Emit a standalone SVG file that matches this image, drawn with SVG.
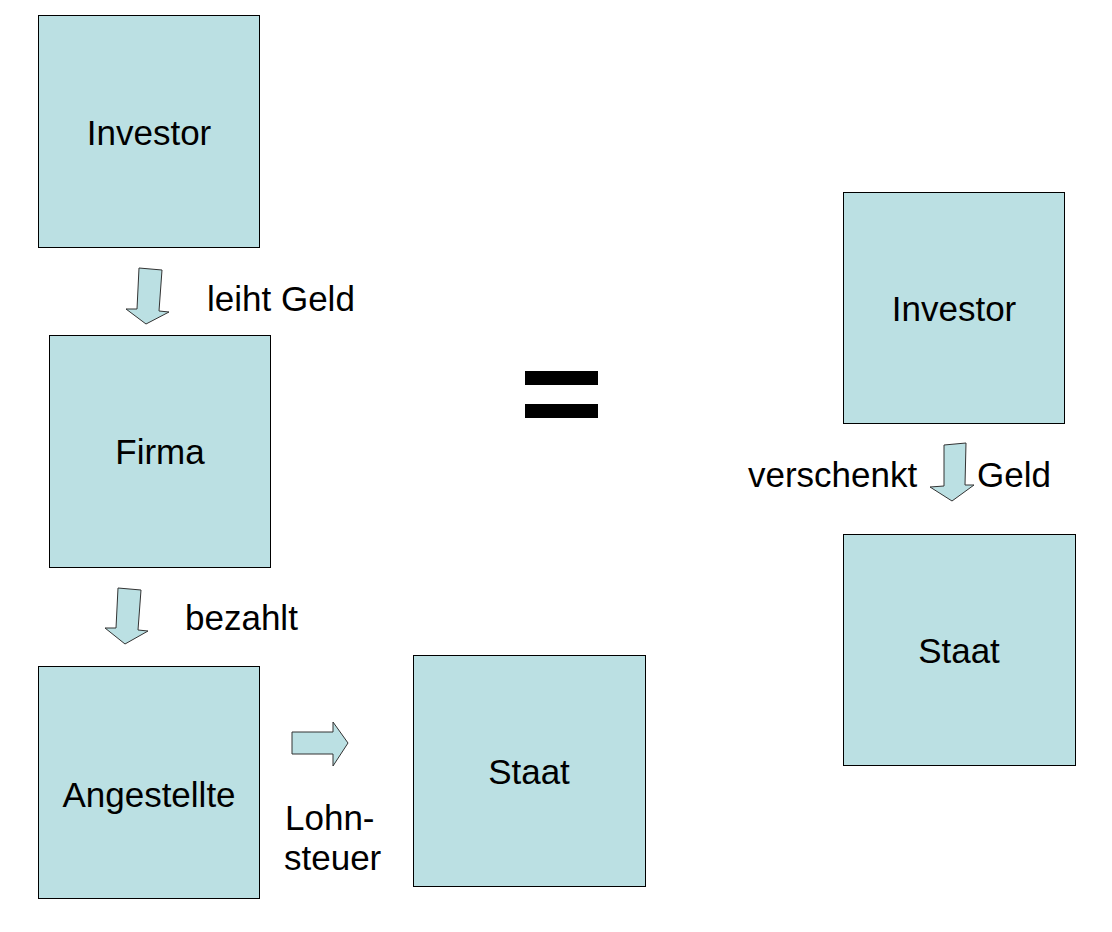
<svg xmlns="http://www.w3.org/2000/svg" width="1112" height="932" viewBox="0 0 1112 932">
<style>
.box{fill:#BBE0E3;stroke:#000;stroke-width:1}
.arr{fill:#BBE0E3;stroke:#333;stroke-width:1;stroke-linejoin:miter}
text{font-family:"Liberation Sans",Arial,sans-serif;font-size:35px;fill:#000}
.c{text-anchor:middle}
</style>
<rect width="1112" height="932" fill="#fff"/>
<g id="investor1"><rect class="box" x="38.5" y="15.5" width="221" height="232"/><text class="c" x="149" y="145">Investor</text></g>
<g id="firma"><rect class="box" x="49.5" y="335.5" width="221" height="232"/><text class="c" x="160" y="464">Firma</text></g>
<g id="angestellte"><rect class="box" x="38.5" y="666.5" width="221" height="232"/><text class="c" x="149" y="807">Angestellte</text></g>
<g id="staat1"><rect class="box" x="413.5" y="655.5" width="232" height="231"/><text class="c" x="529" y="784">Staat</text></g>
<g id="investor2"><rect class="box" x="843.5" y="192.5" width="221" height="231"/><text class="c" x="954" y="321">Investor</text></g>
<g id="staat2"><rect class="box" x="843.5" y="534.5" width="232" height="231"/><text class="c" x="959" y="663">Staat</text></g>
<g id="connectors">
<polygon class="arr" points="139,268 162,270 159,311 169,312 146,324 126,309 137,309"/>
<polygon class="arr" points="118,588 141,590 138,630 148,631 125,644 105,628 116,628"/>
<polygon class="arr" points="292,732 333,732 333,722 348,743 333,766 333,754 292,754"/>
<polygon class="arr" points="944,445 966,443 965,485 974,485 952,501 930,487 944,486"/>
</g>
<g id="labels">
<text x="207" y="311">leiht Geld</text>
<text x="185" y="630">bezahlt</text>
<text x="285" y="830">Lohn-</text>
<text x="284" y="870">steuer</text>
<text x="748" y="487">verschenkt</text>
<text x="977" y="487">Geld</text>
</g>
<g id="equals">
<rect x="525" y="371" width="73" height="14" fill="#000"/>
<rect x="525" y="404" width="73" height="14" fill="#000"/>
</g>
</svg>
